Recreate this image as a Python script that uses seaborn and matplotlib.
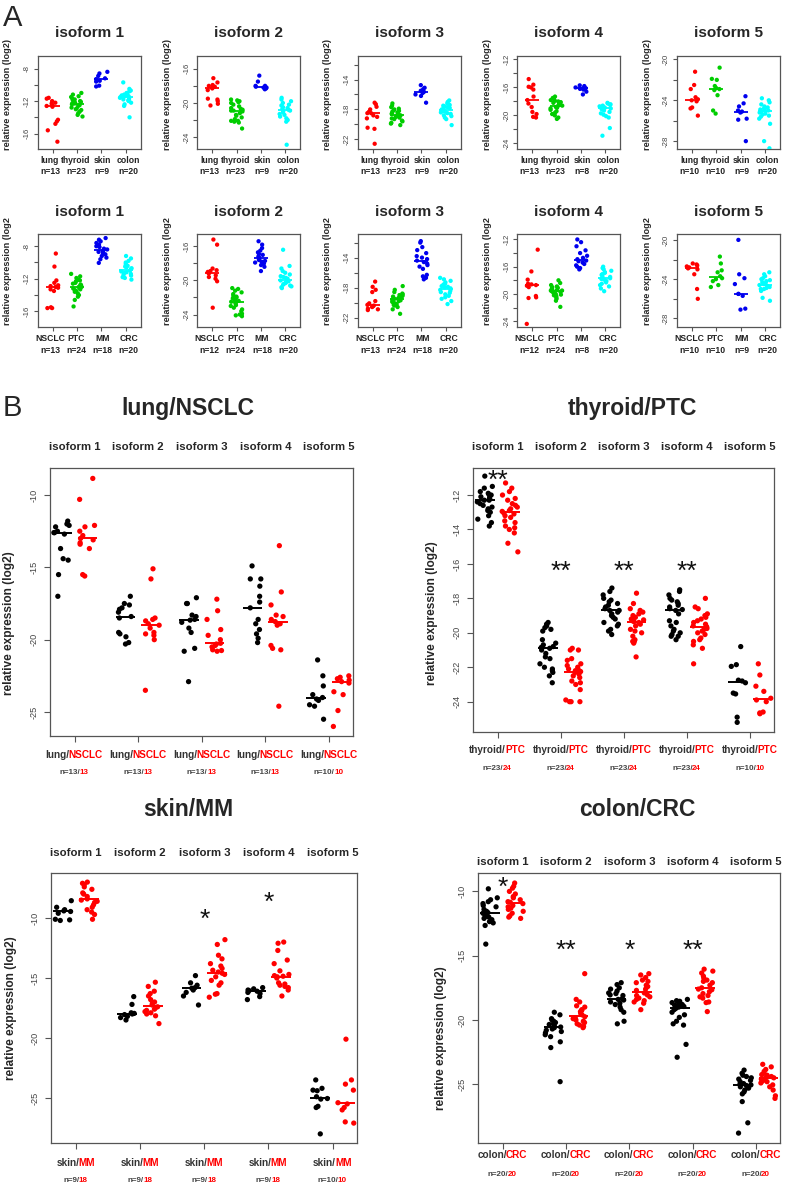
import numpy as np
import pandas as pd
import matplotlib
matplotlib.use("Agg")
import matplotlib.pyplot as plt
import matplotlib.transforms as mtransforms
import seaborn as sns

# ---------------- data ----------------
isoforms = ["isoform 1", "isoform 2", "isoform 3", "isoform 4", "isoform 5"]
normal_tissues = ["lung", "thyroid", "skin", "colon"]
tumour_types = ["NSCLC", "PTC", "MM", "CRC"]

# panel A, normal tissues (lists in order lung, thyroid, skin, colon)
a_normal_iso1 = [
    [-11.6, -11.7, -12.0, -12.2, -12.3, -12.5, -12.6, -12.7, -14.3, -14.5, -14.8, -15.6, -17.0],
    [-11.0, -11.2, -11.4, -11.5, -11.7, -11.8, -11.9, -12.0, -12.1, -12.2, -12.3, -12.3, -12.4,
     -12.5, -12.6, -12.8, -12.9, -13.0, -13.1, -13.3, -13.5, -13.7, -13.9],
    [-8.4, -8.6, -8.9, -9.2, -9.3, -9.5, -9.6, -10.1, -10.2],
    [-9.7, -10.5, -10.7, -10.8, -11.0, -11.1, -11.2, -11.3, -11.4, -11.4, -11.5, -11.6, -11.7,
     -11.8, -11.9, -12.0, -12.2, -12.4, -12.6, -14.0],
]
a_normal_iso2 = [
    [-17.1, -17.6, -17.9, -18.0, -18.1, -18.2, -18.3, -18.5, -19.5, -19.6, -19.8, -20.1, -20.3],
    [-19.6, -19.7, -19.8, -19.9, -20.0, -20.2, -20.4, -20.6, -20.7, -20.8, -20.9, -20.9, -21.0,
     -21.2, -21.4, -21.5, -21.7, -21.9, -22.1, -22.1, -22.2, -22.3, -23.0],
    [-16.8, -17.5, -18.0, -18.0, -18.1, -18.2, -18.2, -18.3, -18.4],
    [-19.4, -19.6, -19.8, -20.0, -20.2, -20.3, -20.5, -20.6, -20.7, -20.8, -20.9, -21.0, -21.1,
     -21.3, -21.4, -21.6, -21.8, -22.0, -22.2, -24.9],
]
a_normal_iso3 = [
    [-17.1, -17.3, -17.65, -18.0, -18.3, -18.5, -18.5, -18.8, -19.0, -19.2, -20.45, -20.6, -22.6],
    [-17.2, -17.5, -17.7, -17.9, -18.0, -18.1, -18.2, -18.3, -18.4, -18.5, -18.6, -18.75, -18.8,
     -18.9, -19.0, -19.1, -19.2, -19.3, -19.5, -19.6, -19.8, -19.9, -20.1],
    [-14.75, -15.1, -15.3, -15.5, -15.65, -15.8, -16.0, -16.2, -17.1],
    [-16.8, -17.0, -17.2, -17.4, -17.5, -17.6, -17.7, -17.8, -17.9, -18.0, -18.2, -18.3, -18.4,
     -18.5, -18.6, -18.8, -18.9, -19.1, -19.3, -20.1],
]
a_normal_iso4 = [
    [-14.8, -15.6, -15.9, -16.0, -16.3, -17.3, -17.8, -18.3, -18.8, -19.5, -19.8, -20.2, -20.3],
    [-17.3, -17.5, -17.6, -17.8, -17.9, -18.0, -18.1, -18.2, -18.3, -18.4, -18.5, -18.6, -18.7,
     -18.8, -18.9, -19.0, -19.2, -19.4, -19.6, -19.8, -20.0, -20.3, -20.5],
    [-15.7, -15.8, -16.0, -16.1, -16.1, -16.2, -16.3, -16.6, -17.0],
    [-18.2, -18.3, -18.4, -18.5, -18.6, -18.7, -18.8, -18.8, -18.9, -18.9, -19.0, -19.1, -19.3,
     -19.5, -19.7, -19.9, -20.1, -20.3, -21.8, -22.9],
]
a_normal_iso5 = [
    [-21.2, -22.5, -22.9, -23.7, -23.9, -24.0, -24.1, -24.7, -24.8, -25.5],
    [-20.8, -21.9, -22.0, -22.6, -22.8, -22.9, -23.0, -23.5, -25.0, -25.3],
    [-23.6, -24.3, -24.6, -25.0, -25.1, -25.2, -25.8, -25.9, -28.0],
    [-23.8, -24.0, -24.2, -24.4, -24.6, -24.7, -24.8, -24.9, -25.0, -25.0, -25.1, -25.2, -25.3,
     -25.4, -25.5, -25.6, -25.8, -26.3, -28.0, -28.7],
]

# panel A, tumours (lists in order NSCLC, PTC, MM, CRC)
a_tumour_iso1 = [
    [-8.9, -10.5, -12.2, -12.5, -12.8, -12.9, -13.0, -13.1, -13.3, -13.5, -15.5, -15.6, -15.6],
    [-11.4, -11.7, -11.9, -12.1, -12.2, -12.3, -12.5, -12.6, -12.7, -12.8, -12.9, -13.0, -13.0,
     -13.1, -13.2, -13.3, -13.4, -13.5, -13.6, -13.8, -14.0, -14.2, -14.6, -15.4],
    [-7.0, -7.2, -7.4, -7.6, -7.8, -8.0, -8.1, -8.3, -8.4, -8.6, -8.7, -8.8, -8.9, -9.0, -9.2,
     -9.4, -9.6, -10.05],
    [-9.2, -9.5, -9.8, -10.0, -10.2, -10.4, -10.5, -10.6, -10.7, -10.8, -11.0, -11.1, -11.2,
     -11.3, -11.4, -11.5, -11.6, -11.8, -11.9, -12.1],
]
a_tumour_iso2 = [
    [-15.2, -15.8, -18.6, -18.8, -18.9, -19.0, -19.2, -19.4, -19.6, -19.8, -20.1, -23.2],
    [-20.9, -21.0, -21.2, -21.4, -21.6, -21.8, -21.9, -22.0, -22.1, -22.3, -22.4, -22.5, -22.5,
     -22.6, -22.7, -22.9, -23.0, -23.2, -23.4, -23.6, -23.9, -24.0, -24.1, -24.2],
    [-15.4, -15.8, -16.2, -16.5, -16.7, -16.9, -17.0, -17.2, -17.3, -17.5, -17.6, -17.7, -17.8,
     -17.9, -18.0, -18.2, -18.4, -18.9],
    [-16.4, -18.3, -18.6, -18.9, -19.1, -19.3, -19.5, -19.6, -19.7, -19.8, -20.0, -20.1, -20.2,
     -20.3, -20.4, -20.5, -20.6, -20.7, -20.8, -20.9],
]
a_tumour_iso3 = [
    [-17.2, -17.9, -18.3, -18.6, -19.8, -20.1, -20.3, -20.4, -20.5, -20.6, -20.8, -20.9, -21.0],
    [-17.8, -18.3, -18.6, -18.8, -18.9, -19.0, -19.1, -19.2, -19.3, -19.4, -19.5, -19.5, -19.6,
     -19.7, -19.8, -19.9, -20.0, -20.1, -20.2, -20.3, -20.4, -20.6, -20.9, -21.5],
    [-11.8, -12.0, -12.6, -13.0, -13.4, -13.8, -14.0, -14.2, -14.4, -14.6, -14.8, -15.0, -15.2,
     -15.5, -16.3, -16.5, -16.7, -16.9],
    [-16.7, -16.9, -17.1, -17.3, -17.5, -17.6, -17.8, -17.9, -18.0, -18.1, -18.3, -18.4, -18.6,
     -18.7, -18.9, -19.1, -19.3, -19.5, -19.8, -20.2],
]
a_tumour_iso4 = [
    [-13.5, -16.7, -17.9, -18.5, -18.6, -18.7, -18.8, -19.0, -20.3, -20.5, -20.6, -24.4],
    [-18.0, -18.4, -18.7, -18.9, -19.0, -19.1, -19.2, -19.3, -19.4, -19.5, -19.5, -19.6, -19.6,
     -19.7, -19.8, -19.9, -20.0, -20.1, -20.2, -20.3, -20.5, -20.7, -21.0, -21.9],
    [-12.0, -12.4, -13.0, -13.6, -14.0, -14.4, -14.7, -14.9, -15.1, -15.2, -15.4, -15.6, -15.8,
     -16.0, -16.2, -16.4],
    [-16.0, -16.2, -16.4, -16.6, -16.8, -16.9, -17.1, -17.2, -17.4, -17.5, -17.7, -17.8, -17.9,
     -18.1, -18.3, -18.5, -18.7, -18.9, -19.2, -19.6],
]
a_tumour_iso5 = [
    [-22.4, -22.5, -22.6, -22.7, -22.8, -22.9, -23.0, -23.5, -25.0, -26.0],
    [-21.7, -22.4, -23.1, -23.3, -23.7, -23.9, -24.0, -24.2, -24.6, -24.8],
    [-20.0, -23.5, -23.9, -24.5, -25.5, -25.5, -25.7, -27.0, -27.1],
    [-23.3, -23.5, -23.7, -23.9, -24.0, -24.1, -24.2, -24.3, -24.4, -24.5, -24.6, -24.7, -24.8,
     -24.9, -25.0, -25.0, -25.1, -25.2, -25.9, -26.2],
]
a_normal_n = [[13, 23, 9, 20], [13, 23, 9, 20], [13, 23, 9, 20], [13, 23, 8, 20], [10, 10, 9, 20]]
a_tumour_n = [[13, 24, 18, 20], [12, 24, 18, 20], [13, 24, 18, 20], [12, 24, 8, 20], [10, 10, 9, 20]]

# panel B, one list per isoform
lung_normal = [
    [-11.8, -12.0, -12.1, -12.2, -12.5, -12.6, -12.6, -12.7, -13.7, -14.4, -14.5, -15.5, -17.0],
    [-17.0, -17.5, -17.6, -17.8, -17.9, -18.1, -18.4, -18.5, -19.5, -19.6, -19.8, -20.2, -20.3],
    [-17.1, -17.5, -17.5, -18.3, -18.4, -18.6, -18.65, -18.8, -19.2, -19.5, -20.6, -20.8, -22.9],
    [-14.9, -15.8, -15.8, -16.3, -17.0, -17.4, -17.8, -18.6, -18.9, -19.3, -19.6, -19.9, -20.2],
    [-21.4, -22.5, -23.2, -23.8, -24.0, -24.1, -24.2, -24.5, -24.6, -25.5],
]
lung_nsclc = [
    [-8.85, -10.3, -12.1, -12.2, -12.5, -12.8, -13.0, -13.1, -13.3, -13.4, -13.7, -15.5, -15.6],
    [-15.1, -15.8, -18.5, -18.6, -18.7, -18.9, -19.0, -19.2, -19.5, -19.6, -19.7, -20.0, -23.5],
    [-17.2, -18.0, -18.6, -19.3, -19.7, -20.0, -20.25, -20.3, -20.4, -20.5, -20.7, -20.75, -20.8],
    [-13.5, -16.7, -17.6, -18.3, -18.4, -18.6, -18.75, -18.9, -19.0, -20.4, -20.6, -20.7, -24.6],
    [-22.5, -22.6, -22.7, -22.8, -22.9, -23.0, -23.6, -23.8, -24.9, -26.0],
]
thyroid_normal = [
    [-10.9, -11.5, -11.6, -11.8, -11.9, -12.0, -12.0, -12.1, -12.2, -12.2, -12.3, -12.3, -12.4,
     -12.5, -12.6, -12.7, -12.8, -12.9, -13.0, -13.2, -13.4, -13.6, -13.8],
    [-19.4, -19.5, -19.6, -19.7, -19.8, -19.9, -20.4, -20.6, -20.7, -20.8, -20.85, -20.9, -21.0,
     -21.2, -21.4, -21.5, -21.8, -22.0, -22.1, -22.2, -22.3, -22.5, -22.9],
    [-17.4, -17.6, -17.8, -18.0, -18.1, -18.2, -18.3, -18.4, -18.5, -18.6, -18.7, -18.7, -18.8,
     -18.9, -19.0, -19.1, -19.2, -19.4, -19.5, -19.6, -19.8, -19.9, -20.1],
    [-17.5, -17.6, -17.8, -18.0, -18.1, -18.2, -18.3, -18.4, -18.5, -18.6, -18.65, -18.7, -18.9,
     -19.3, -19.4, -19.6, -19.8, -19.9, -20.0, -20.1, -20.2, -20.2, -20.4],
    [-20.8, -21.85, -21.95, -22.75, -22.8, -22.9, -23.5, -23.55, -24.9, -25.2],
]
thyroid_ptc = [
    [-11.3, -11.6, -11.8, -12.0, -12.2, -12.3, -12.5, -12.6, -12.7, -12.8, -12.9, -12.95, -13.05,
     -13.1, -13.2, -13.3, -13.5, -13.6, -13.8, -13.9, -14.0, -14.2, -14.8, -15.3],
    [-20.9, -21.0, -21.0, -21.5, -21.6, -21.8, -21.9, -22.0, -22.1, -22.2, -22.2, -22.25, -22.3,
     -22.4, -22.5, -22.6, -22.8, -22.9, -23.0, -23.3, -23.9, -24.0, -24.0, -24.0],
    [-17.7, -18.3, -18.6, -18.7, -18.8, -18.9, -19.0, -19.1, -19.2, -19.25, -19.3, -19.35, -19.4,
     -19.5, -19.6, -19.8, -19.9, -20.0, -20.2, -20.4, -20.5, -20.5, -20.6, -21.4],
    [-18.0, -18.5, -18.6, -18.9, -19.0, -19.1, -19.2, -19.3, -19.4, -19.5, -19.6, -19.65, -19.7,
     -19.75, -19.8, -19.9, -20.0, -20.1, -20.3, -20.4, -20.5, -20.7, -20.9, -21.8],
    [-21.8, -22.45, -23.1, -23.4, -23.8, -23.9, -24.0, -24.6, -24.65, -24.7],
]
skin_normal = [
    [-8.55, -9.1, -9.3, -9.4, -9.45, -9.6, -10.1, -10.15, -10.2],
    [-16.55, -17.2, -17.9, -17.95, -18.0, -18.05, -18.2, -18.3, -18.5],
    [-14.8, -15.4, -15.6, -15.8, -15.85, -16.0, -16.2, -16.5, -17.25],
    [-15.8, -15.9, -16.0, -16.05, -16.1, -16.2, -16.3, -16.55, -16.8],
    [-23.5, -24.2, -24.35, -24.4, -24.9, -25.05, -25.1, -25.7, -25.8, -28.0],
]
skin_mm = [
    [-7.0, -7.1, -7.2, -7.4, -7.6, -7.9, -8.0, -8.2, -8.4, -8.5, -8.6, -8.7, -8.9, -9.1, -9.3,
     -9.5, -9.7, -10.1],
    [-15.35, -15.7, -16.1, -16.3, -16.5, -16.8, -17.0, -17.1, -17.25, -17.4, -17.5, -17.6, -17.7,
     -17.8, -17.9, -18.0, -18.15, -18.8],
    [-11.8, -12.2, -13.1, -13.4, -13.8, -14.0, -14.2, -14.35, -14.5, -14.6, -14.7, -14.9, -15.2,
     -15.4, -15.6, -16.3, -16.35, -16.6],
    [-12.0, -12.1, -12.7, -13.5, -13.8, -14.4, -14.7, -14.8, -14.85, -14.9, -15.0, -15.4, -15.5,
     -15.6, -15.7, -15.8, -16.0, -16.5],
    [-20.1, -23.5, -23.85, -24.35, -25.4, -25.5, -25.8, -26.0, -27.0, -27.1],
]
colon_normal = [
    [-9.8, -10.5, -10.65, -10.8, -10.95, -11.1, -11.2, -11.4, -11.55, -11.65, -11.7, -11.85,
     -11.95, -12.0, -12.1, -12.2, -12.35, -12.45, -12.65, -14.1],
    [-19.4, -19.6, -19.9, -20.0, -20.1, -20.2, -20.3, -20.35, -20.45, -20.55, -20.6, -20.7,
     -20.8, -20.9, -21.0, -21.15, -21.3, -21.7, -22.15, -24.8],
    [-17.1, -17.25, -17.5, -17.6, -17.75, -17.9, -17.95, -18.05, -18.1, -18.35, -18.4, -18.45,
     -18.6, -18.7, -18.8, -19.0, -19.2, -19.4, -20.1, -20.3],
    [-18.4, -18.5, -18.55, -18.65, -18.7, -18.8, -18.85, -18.9, -18.95, -19.0, -19.1, -19.2,
     -19.4, -19.6, -19.8, -20.1, -20.3, -20.4, -21.9, -22.9],
    [-23.9, -24.15, -24.3, -24.4, -24.5, -24.6, -24.7, -24.8, -24.95, -25.0, -25.05, -25.1,
     -25.2, -25.3, -25.45, -25.6, -25.75, -26.35, -28.0, -28.8],
]
colon_crc = [
    [-9.35, -9.6, -9.75, -10.0, -10.2, -10.4, -10.5, -10.65, -10.8, -10.85, -10.95, -11.1, -11.2,
     -11.3, -11.4, -11.55, -11.7, -11.9, -12.0, -12.1],
    [-16.4, -18.4, -18.6, -18.9, -19.0, -19.2, -19.25, -19.35, -19.5, -19.6, -19.75, -19.85,
     -19.9, -20.0, -20.1, -20.2, -20.3, -20.4, -20.5, -20.6],
    [-16.4, -16.5, -16.7, -16.9, -17.0, -17.1, -17.3, -17.4, -17.6, -17.7, -17.9, -18.05, -18.1,
     -18.2, -18.3, -18.4, -18.5, -18.6, -18.7, -19.2],
    [-16.05, -16.2, -16.35, -16.6, -16.75, -16.9, -17.0, -17.1, -17.3, -17.5, -17.6, -17.65,
     -17.8, -17.95, -18.1, -18.2, -18.3, -18.6, -18.65, -19.35],
    [-23.45, -23.65, -23.85, -24.0, -24.15, -24.25, -24.3, -24.4, -24.5, -24.5, -24.6, -24.65,
     -24.75, -24.8, -24.9, -25.05, -25.2, -25.45, -25.9, -26.1],
]
lung_n = ([13, 13, 13, 13, 10], [13, 13, 13, 13, 10])
thyroid_n = ([23, 23, 23, 23, 10], [24, 24, 24, 24, 10])
skin_n = ([9, 9, 9, 9, 10], [18, 18, 18, 18, 10])
colon_n = ([20, 20, 20, 20, 20], [20, 20, 20, 20, 20])

lung_stars = ["", "", "", "", ""]
thyroid_stars = ["**", "**", "**", "**", ""]
skin_stars = ["", "", "*", "*", ""]
colon_stars = ["*", "**", "*", "**", ""]

# ---------------- layout / style ----------------
W, H = 790, 1185
A_COLORS = ["#ff0000", "#00cd00", "#0000ee", "#00ffff"]
B_COLORS = ["#000000", "#ff0000"]
GREY = "#555555"

sns.set_style("ticks")
plt.rcParams["font.family"] = ["Liberation Sans", "DejaVu Sans"]

np.random.seed(11)
fig = plt.figure(figsize=(W / 100, H / 100), dpi=100)
renderer = fig.canvas.get_renderer()


def px_axes(x0, y0, x1, y1):
    return fig.add_axes([x0 / W, 1 - y1 / H, (x1 - x0) / W, (y1 - y0) / H])


def style_axes(ax, tick_len):
    for sp in ax.spines.values():
        sp.set_color(GREY)
        sp.set_linewidth(0.9)
    ax.tick_params(which="both", direction="out", length=tick_len, width=0.8,
                   color=GREY, labelcolor="#444444")


def below(ax, x, dx_px, dy_px):
    base = mtransforms.blended_transform_factory(ax.transData, ax.transAxes)
    return base + mtransforms.Affine2D().translate(dx_px, -dy_px)


def draw_a(ax, groups, labels, ns, ylim, major, minor, ylabel):
    df = pd.DataFrame({
        "group": np.repeat(labels, [len(g) for g in groups]),
        "value": np.concatenate(groups),
    })
    sns.stripplot(data=df, x="group", y="value", hue="group", order=labels,
                  hue_order=labels, palette=A_COLORS, jitter=0.25, size=3.1,
                  linewidth=0, legend=False, ax=ax)
    med = df.groupby("group")["value"].median()
    for i, lab in enumerate(labels):
        ax.hlines(med[lab], i - 0.29, i + 0.29, color=A_COLORS[i], lw=1.3)
    ax.set_xlim(-0.61, 3.61)
    ax.set_ylim(*ylim)
    ax.set_xticks(range(4), labels=[])
    # category names spread slightly wider than the ticks so they do not collide
    for i, (lab, n) in enumerate(zip(labels, ns)):
        dx = (i - 1.5) * 1.8
        ax.text(i, 0, lab, transform=below(ax, i, dx, 11.5), ha="center", va="center",
                fontsize=6.2, fontweight="bold", color="#222222")
        ax.text(i, 0, f"n={n}", transform=below(ax, i, dx, 23), ha="center", va="center",
                fontsize=6.2, fontweight="bold", color="#222222")
    ax.set_yticks(major, labels=[f"{v:d}" for v in major], rotation=90, va="center",
                  fontsize=5.6)
    ax.set_yticks(minor, minor=True)
    style_axes(ax, 3)
    ax.tick_params(axis="y", pad=2)
    ax.set_xlabel("")
    ax.set_ylabel(ylabel, fontsize=6.6, fontweight="bold")


def two_tone(ax, x, dy_px, left, right, size, lcolor):
    kw = dict(ha="left", va="center", fontsize=size, fontweight="bold")
    probe = ax.text(x, 0, left + right, **kw)
    w_all = probe.get_window_extent(renderer).width
    probe.remove()
    start = -w_all / 2
    ax.text(x, 0, left, transform=below(ax, x, start, dy_px), color=lcolor, **kw)
    kw["ha"] = "right"
    ax.text(x, 0, right, transform=below(ax, x, start + w_all - 0.12 * size, dy_px),
            color="#ff0000", **kw)


def draw_b(ax, normal, tumour, tissue, tumour_name, ns, stars, star_y, ylim, yticks,
           lab_dy, n_dy, iso_dy, ylab_pos):
    rows = []
    for iso, nv, tv in zip(isoforms, normal, tumour):
        rows += [(iso, "normal", v) for v in nv]
        rows += [(iso, "tumour", v) for v in tv]
    df = pd.DataFrame(rows, columns=["isoform", "kind", "value"])
    sns.stripplot(data=df, x="isoform", y="value", hue="kind", order=isoforms,
                  hue_order=["normal", "tumour"], palette=B_COLORS, dodge=True,
                  jitter=0.26, size=3.8, linewidth=0, legend=False, ax=ax)
    med = df.groupby(["isoform", "kind"])["value"].median()
    for i, iso in enumerate(isoforms):
        for off, kind, c in [(-0.2, "normal", B_COLORS[0]), (0.2, "tumour", B_COLORS[1])]:
            ax.hlines(med.loc[(iso, kind)], i + off - 0.155, i + off + 0.155, color=c, lw=1.4)
    ax.set_xlim(-0.39, 4.38)
    ax.set_ylim(*ylim)
    ax.set_xticks(range(5), labels=[])
    ax.set_yticks(yticks, labels=[f"{v:d}" for v in yticks], rotation=90, va="center",
                  fontsize=6.6)
    style_axes(ax, 4)
    ax.tick_params(axis="y", pad=4)
    ax.set_xlabel("")
    ax.set_ylabel("relative expression (log2)", fontsize=8.6, fontweight="bold")
    ax.yaxis.set_label_coords(*ylab_pos)
    top = mtransforms.blended_transform_factory(ax.transData, ax.transAxes)
    for i, iso in enumerate(isoforms):
        ax.text(i, 1, iso, transform=top + mtransforms.Affine2D().translate(0, iso_dy),
                ha="center", va="center", fontsize=8.2, fontweight="bold")
        two_tone(ax, i, lab_dy, f"{tissue}/", tumour_name, 7.2, "#333333")
        two_tone(ax, i, n_dy, f"n={ns[0][i]}/", f"{ns[1][i]}", 5.8, "#444444")
        if stars[i]:
            ax.text(i, star_y[i], stars[i], ha="center", va="baseline", fontsize=19,
                    color="#111111",
                    transform=ax.transData + mtransforms.Affine2D().translate(0, -15))


# ---------------- panel A ----------------
a_lefts = [37.7, 197.3, 357.7, 517.3, 677]
a_width = 103
a_normal = [a_normal_iso1, a_normal_iso2, a_normal_iso3, a_normal_iso4, a_normal_iso5]
a_tumour = [a_tumour_iso1, a_tumour_iso2, a_tumour_iso3, a_tumour_iso4, a_tumour_iso5]
a_top_ylim = [(-17.9, -6.45), (-25.4, -14.5), (-23.3, -10.85), (-24.8, -11.5), (-28.77, -19.66)]
a_bot_ylim = [(-17.96, -6.5), (-25.5, -14.55), (-23.3, -10.85), (-24.9, -11.2), (-28.9, -19.4)]
a_major = [[-16, -12, -8], [-24, -20, -16], [-22, -18, -14], [-24, -20, -16, -12], [-28, -24, -20]]
a_minor = [[-14, -10], [-22, -18], [-20, -16, -12], [-22, -18, -14], [-26, -22]]

for k in range(5):
    x0 = a_lefts[k]
    ax = px_axes(x0, 56, x0 + a_width, 149)
    draw_a(ax, a_normal[k], normal_tissues, a_normal_n[k], a_top_ylim[k], a_major[k],
           a_minor[k], "relative expression (log2)")
    ax.yaxis.set_label_coords(-0.245, 0.59)
    fig.text((x0 + a_width / 2) / W, 1 - 33 / H, isoforms[k], ha="center", va="center",
             fontsize=11, fontweight="bold")

    ax = px_axes(x0, 234, x0 + a_width, 327.3)
    draw_a(ax, a_tumour[k], tumour_types, a_tumour_n[k], a_bot_ylim[k], a_major[k],
           a_minor[k], "relative expression (log2")
    ax.yaxis.set_label_coords(-0.245, 0.6)
    fig.text((x0 + a_width / 2) / W, 1 - 212 / H, isoforms[k], ha="center", va="center",
             fontsize=11, fontweight="bold")

fig.text(3 / W, 1 - 18 / H, "A", ha="left", va="center", fontsize=21)
fig.text(3 / W, 1 - 408 / H, "B", ha="left", va="center", fontsize=21)

# ---------------- panel B ----------------
ax = px_axes(50, 468, 353, 736)
draw_b(ax, lung_normal, lung_nsclc, "lung", "NSCLC", lung_n, lung_stars, [None] * 5,
       (-26.66, -8.13), [-25, -20, -15, -10], 19, 37, 21, (-0.114, 0.42))
fig.text(188 / W, 1 - 408 / H, "lung/NSCLC", ha="center", va="center", fontsize=16.5,
         fontweight="bold")

ax = px_axes(473, 468, 774, 732)
draw_b(ax, thyroid_normal, thyroid_ptc, "thyroid", "PTC", thyroid_n, thyroid_stars,
       [-10.74, -16.0, -16.0, -16.0, None], (-25.76, -10.43),
       [-24, -22, -20, -18, -16, -14, -12], 18, 37, 21, (-0.115, 0.45))
fig.text(632 / W, 1 - 408 / H, "thyroid/PTC", ha="center", va="center", fontsize=16.5,
         fontweight="bold")

ax = px_axes(51, 873, 357, 1143)
draw_b(ax, skin_normal, skin_mm, "skin", "MM", skin_n, skin_stars,
       [None, None, -9.44, -8.1, None], (-28.76, -6.24), [-25, -20, -15, -10],
       20, 37, 20, (-0.11, 0.5))
fig.text(188 / W, 1 - 810 / H, "skin/MM", ha="center", va="center", fontsize=16.5,
         fontweight="bold")

ax = px_axes(478, 873, 780, 1143)
draw_b(ax, colon_normal, colon_crc, "colon", "CRC", colon_n, colon_stars,
       [-9.1, -14.0, -14.0, -14.0, None], (-29.57, -8.57), [-25, -20, -15, -10],
       12, 32, 11, (-0.102, 0.39))
fig.text(637 / W, 1 - 810 / H, "colon/CRC", ha="center", va="center", fontsize=16.5,
         fontweight="bold")

fig.savefig("out.png", dpi=100)
